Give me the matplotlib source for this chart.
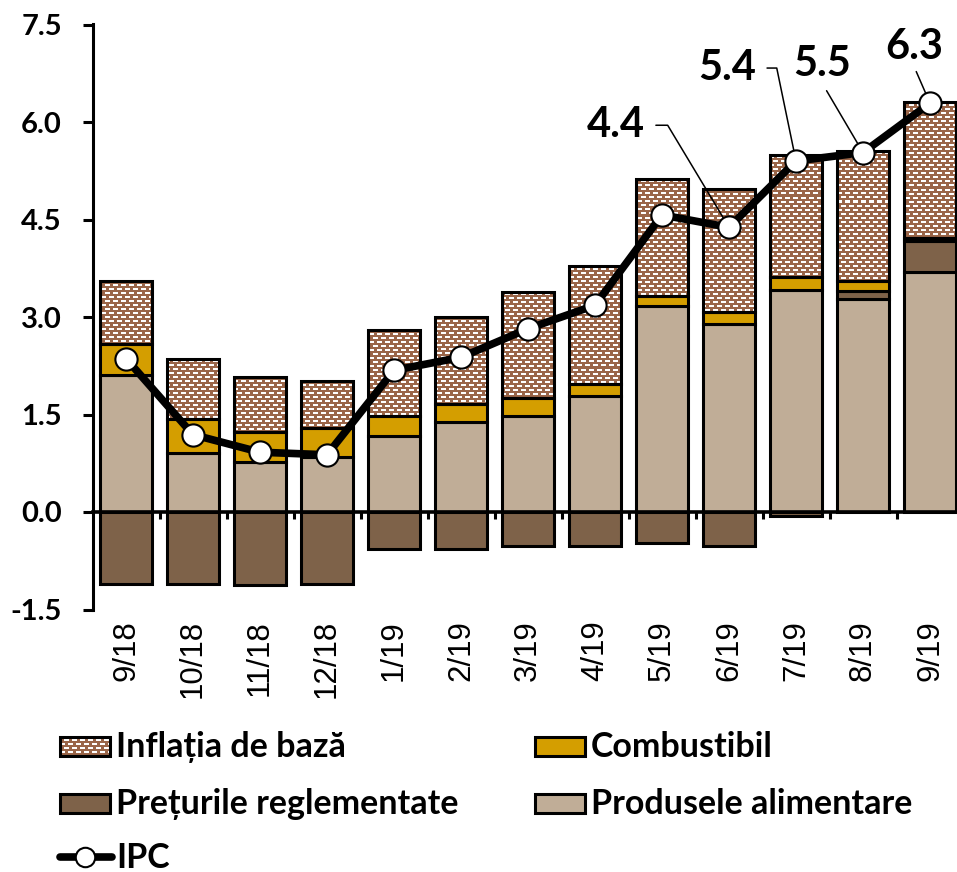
import numpy as np
import matplotlib.pyplot as plt
from matplotlib.patches import Rectangle
from matplotlib.colors import to_rgb

plt.rcParams['font.family'] = ['Lato', 'DejaVu Sans']
plt.rcParams['axes.unicode_minus'] = False

months = ['9/18', '10/18', '11/18', '12/18', '1/19', '2/19', '3/19',
          '4/19', '5/19', '6/19', '7/19', '8/19', '9/19']
food = [2.10, 0.90, 0.77, 0.84, 1.17, 1.39, 1.48, 1.79, 3.17, 2.89, 3.42, 3.27, 3.69]
regulated = [-1.11, -1.11, -1.12, -1.10, -0.57, -0.57, -0.53, -0.52, -0.47, -0.53, -0.06, 0.13, 0.48]
fuel = [0.48, 0.53, 0.46, 0.45, 0.31, 0.27, 0.28, 0.18, 0.16, 0.19, 0.20, 0.16, 0.05]
core = [0.98, 0.92, 0.85, 0.73, 1.32, 1.34, 1.63, 1.81, 1.79, 1.89, 1.87, 1.99, 2.08]
ipc = [2.36, 1.19, 0.92, 0.88, 2.18, 2.38, 2.82, 3.18, 4.57, 4.38, 5.40, 5.53, 6.29]

names = {'core': 'Inflația de bază', 'fuel': 'Combustibil',
         'reg': 'Prețurile reglementate', 'food': 'Produsele alimentare', 'ipc': 'IPC'}

CORE_COL = '#9A6548'
REG_COL = '#7E6249'
FOOD_COL = '#C0AD97'
FUEL_COL = '#D49E00'
EDGE_LW = 2.2


def brick(h, w):
    # brown background with white staggered dashes
    yy, xx = np.mgrid[0:h, 0:w]
    row = yy // 2
    shift = (row // 2 % 2) * 4
    white = (row % 2 == 0) & ((xx + shift) % 8 < 5)
    img = np.empty((h, w, 3))
    img[:] = to_rgb(CORE_COL)
    img[white] = 1.0
    return img


W_PX, H_PX = 957, 872
fig = plt.figure(figsize=(W_PX / 100, H_PX / 100), dpi=100)
ax_l, ax_r, ax_t, ax_b = 92.5, 963.5, 24.5, 609.5
ax = fig.add_axes([ax_l / W_PX, 1 - ax_b / H_PX, (ax_r - ax_l) / W_PX, (ax_b - ax_t) / H_PX])

x = np.arange(len(months))
n = len(months)
pos = np.zeros(n)
neg = np.zeros(n)


def stack(vals):
    v = np.array(vals, dtype=float)
    b = np.where(v >= 0, pos, neg)
    pos[:] += np.where(v >= 0, v, 0)
    neg[:] += np.where(v < 0, v, 0)
    return v, b


width = 0.79
v, b = stack(food)
ax.bar(x, v, width, bottom=b, color=FOOD_COL, edgecolor='black', lw=EDGE_LW, zorder=3)
v, b = stack(regulated)
ax.bar(x, v, width, bottom=b, color=REG_COL, edgecolor='black', lw=EDGE_LW, zorder=3)
v, b = stack(fuel)
ax.bar(x, v, width, bottom=b, color=FUEL_COL, edgecolor='black', lw=EDGE_LW, zorder=3)
v, b = stack(core)
core_fill = ax.bar(x, v, width, bottom=b, color=CORE_COL, lw=0, zorder=2)
ax.bar(x, v, width, bottom=b, facecolor='none', edgecolor='black', lw=EDGE_LW, zorder=3)

pattern = brick(int(round(ax_b - ax_t)), int(round(ax_r - ax_l)))
for p in core_fill:
    im = ax.imshow(pattern, extent=(0, 1, 0, 1), transform=ax.transAxes,
                   aspect='auto', interpolation='nearest', zorder=2.1)
    im.set_clip_path(p)

ax.plot(x, ipc, color='black', lw=5.5, marker='o', ms=16, mfc='white',
        mec='black', mew=1.5, zorder=5)

# labels for the last months
ann = [(9, 7.31, 5.95, 'angle,angleA=0,angleB=121,rad=0', (1, 0.5), 6),
       (10, 8.97, 6.83, 'angle,angleA=0,angleB=101.7,rad=0', (1, 0.5), 6),
       (11, 10.39, 6.89, 'arc3', (0.5, 0), 4),
       (12, 11.76, 7.15, 'arc3', (0.5, 0), 2)]
for i, tx, ty, cs, rp, sh in ann:
    ax.annotate(f'{ipc[i]:.1f}', xy=(x[i], ipc[i]), xytext=(tx, ty),
                ha='center', va='center', fontsize=30, fontweight='bold', zorder=4,
                arrowprops=dict(arrowstyle='-', color='black', lw=1.1,
                                connectionstyle=cs, relpos=rp, shrinkA=sh, shrinkB=0))

ax.set_xlim(-0.5, n - 0.5)
ax.set_ylim(-1.5, 7.5)
ax.set_yticks(np.arange(-1.5, 7.6, 1.5))
ax.yaxis.set_major_formatter('{x:.1f}')
ax.tick_params(axis='y', length=7, width=EDGE_LW, pad=15, labelsize=21)
for t in ax.get_yticklabels():
    t.set_fontweight('bold')

ax.spines['top'].set_visible(False)
ax.spines['right'].set_visible(False)
ax.spines['left'].set_linewidth(EDGE_LW)
ax.spines['bottom'].set_position(('data', 0))
ax.spines['bottom'].set_linewidth(2.6)
ax.spines['bottom'].set_zorder(4)
ax.set_xticks([])
ax.set_xticks(x[:-1] + 0.5, minor=True)
ax.tick_params(axis='x', which='minor', length=5, width=2.2, direction='out')

# month labels below the plot area
for i, m in enumerate(months):
    ax.annotate(m, xy=(x[i], 0), xycoords=('data', 'axes fraction'),
                xytext=(0, -7.5), textcoords='offset points', rotation=90,
                ha='center', va='top', fontsize=22.5, family=['Liberation Sans'])

# legend
lax = fig.add_axes([0, 0, 1, 0.18])
lax.axis('off')
leg_items = ['core', 'fuel', 'reg', 'food', 'ipc']
leg_colors = {'core': CORE_COL, 'fuel': FUEL_COL, 'reg': REG_COL, 'food': FOOD_COL}
col_x = [60, 535]
row_y = [746, 803, 857]
leg_pattern = brick(int(round(0.18 * H_PX)), W_PX)
for k, key in enumerate(leg_items):
    lx, ly = col_x[k % 2], row_y[k // 2]
    if key == 'ipc':
        lax.plot([lx, lx + 52], [ly, ly], color='black', lw=5.5, solid_capstyle='round')
        lax.plot([lx + 25], [ly], marker='o', ms=14, mfc='white', mec='black', mew=1.5)
    else:
        r = Rectangle((lx, ly - 9.5), 50, 19, facecolor=leg_colors[key],
                      edgecolor='black', lw=EDGE_LW, zorder=3)
        if key == 'core':
            r.set_facecolor('none')
            bg = Rectangle((lx, ly - 9.5), 50, 19, facecolor=CORE_COL, lw=0, zorder=1)
            lax.add_patch(bg)
            im = lax.imshow(leg_pattern, extent=(0, 1, 0, 1), transform=lax.transAxes,
                            aspect='auto', interpolation='nearest', zorder=2)
            im.set_clip_path(bg)
        lax.add_patch(r)
    lax.text(lx + 56, ly + 11, names[key], ha='left', va='baseline', fontsize=24.5,
             fontweight='bold')
lax.set_xlim(0, W_PX)
lax.set_ylim(H_PX, H_PX - 0.18 * H_PX)

fig.savefig('out.png', dpi=100)
